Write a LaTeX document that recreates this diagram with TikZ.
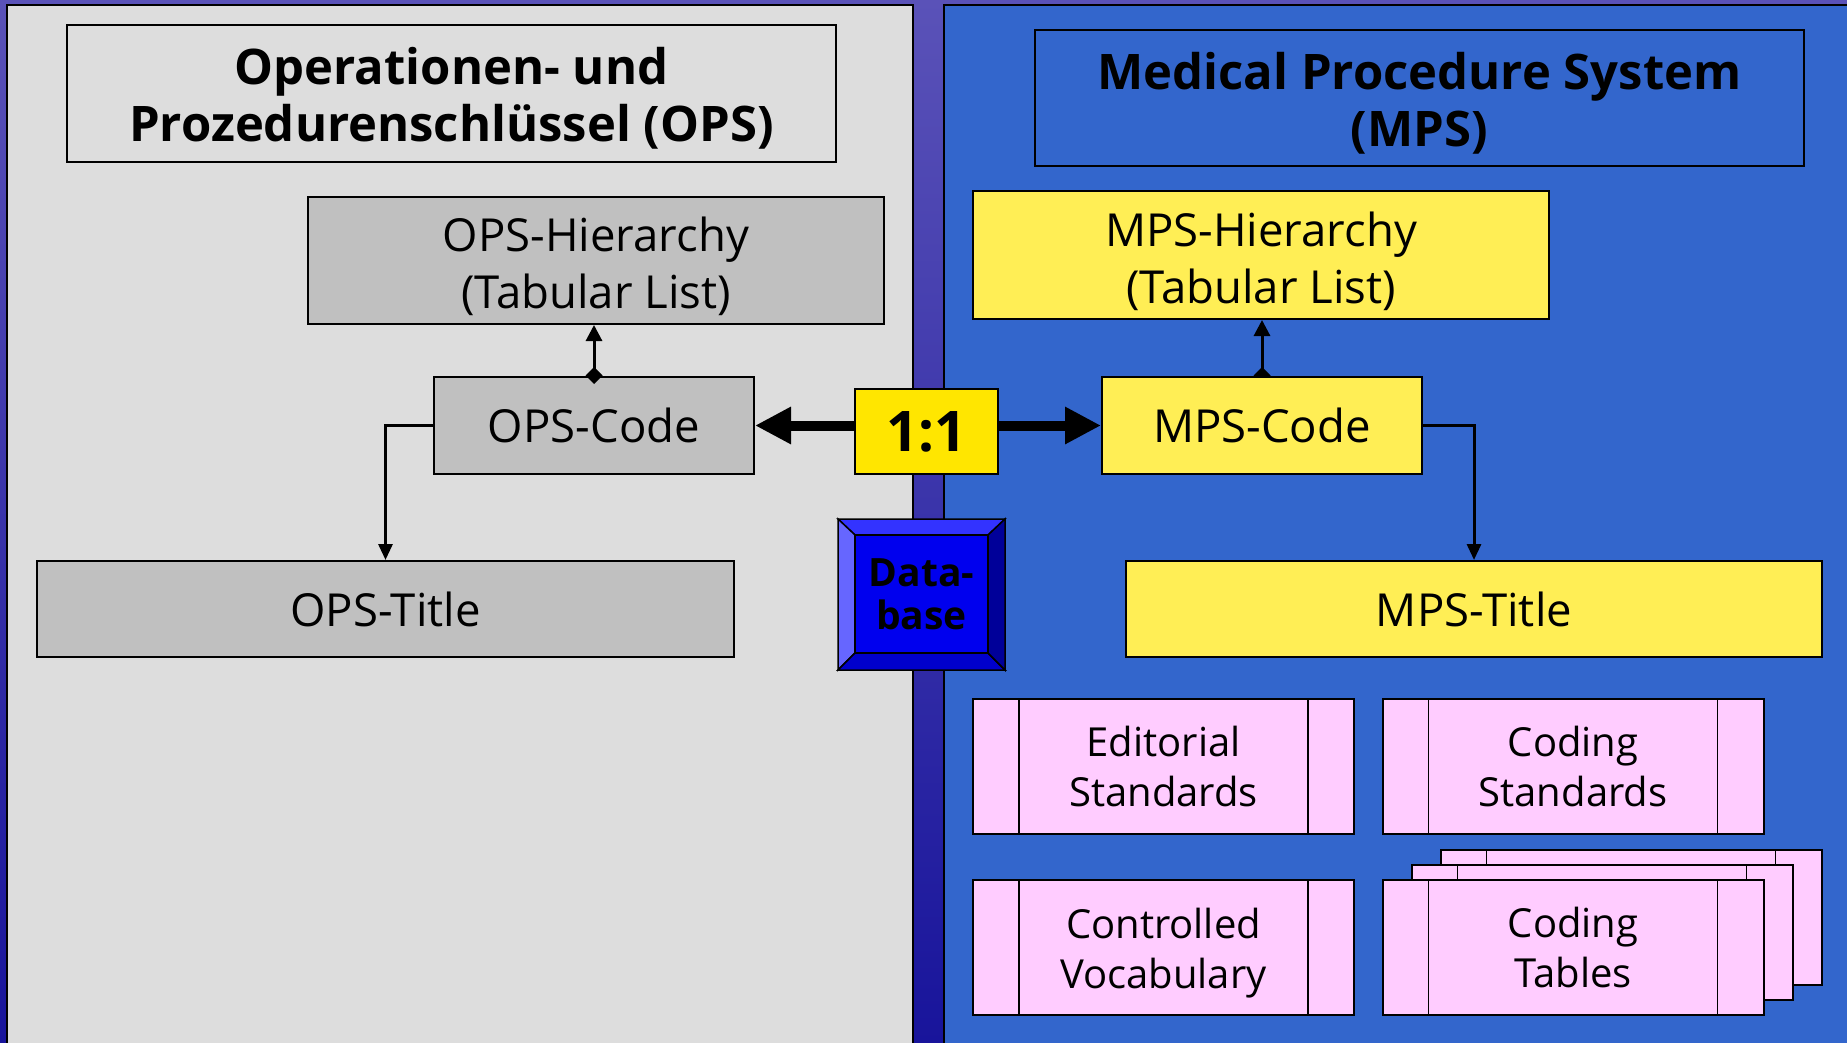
\documentclass[tikz,border=0pt]{standalone}
\usepackage{fontspec}
\setmainfont{Open Sans}
\usetikzlibrary{arrows.meta}
\definecolor{panelgray}{HTML}{DDDDDD}
\definecolor{opsgray}{HTML}{C0C0C0}
\definecolor{mpsblue}{HTML}{3366CC}
\definecolor{mpsyellow}{HTML}{FFEE55}
\definecolor{oneyellow}{HTML}{FFE600}
\definecolor{pinkfill}{HTML}{FFCCFF}
\definecolor{purtop}{RGB}{90,82,184}
\definecolor{purbot}{RGB}{24,20,155}
\definecolor{dbtop}{RGB}{51,51,255}
\definecolor{dbleft}{RGB}{102,102,255}
\definecolor{dbbottom}{RGB}{0,0,204}
\definecolor{dbright}{RGB}{0,0,153}
\definecolor{dbface}{RGB}{0,0,238}
\pgfdeclarelayer{bg}
\pgfdeclarelayer{conn}
\pgfsetlayers{bg,conn,main}
\newcommand{\topstrut}{\rule{0pt}{47pt}}
\tikzset{
  box/.style={draw=black, line width=2pt, inner sep=0pt, align=center, text=black},
  regtext/.style={font=\fontsize{45.5}{57}\selectfont},
  titletext/.style={font=\bfseries\fontsize{49}{57}\selectfont},
  opsbox/.style={box, fill=opsgray, regtext},
  mpsbox/.style={box, fill=mpsyellow, regtext},
  pinkbox/.style={box, fill=pinkfill, minimum width=381pt, minimum height=135pt,
    font=\fontsize{40}{50}\selectfont,
    path picture={
      \draw[line width=1.5pt] ([xshift=46pt]path picture bounding box.north west) -- ([xshift=46pt]path picture bounding box.south west);
      \draw[line width=1.5pt] ([xshift=-46pt]path picture bounding box.north east) -- ([xshift=-46pt]path picture bounding box.south east);
    }},
  thinarrow/.style={line width=3pt, -{Triangle[length=16pt,width=14pt]}},
  bigarrow/.style={line width=10pt, -{Triangle[length=36pt,width=35pt]}},
  bevel/.style={draw=black, line width=1.5pt, line join=miter}
}
\begin{document}
\begin{tikzpicture}[x=1pt,y=-1pt]
\useasboundingbox (0,0) rectangle (1847,1043);
\begin{pgfonlayer}{bg}
  \shade[top color=purtop, bottom color=purbot] (0,0) rectangle (1847,1043);
  \draw[fill=panelgray, line width=2pt] (7,5) rectangle (913,1060);
  \draw[fill=mpsblue, line width=2pt] (944,5) rectangle (1870,1060);
\end{pgfonlayer}

% titles
\node[box, titletext, minimum width=769pt, minimum height=137pt] (opshead) at (451.5,93.5)
  {\topstrut Operationen- und\\Prozedurenschlüssel (OPS)};
\node[box, titletext, fill=mpsblue, minimum width=769pt, minimum height=136pt] (mpshead) at (1419.5,98)
  {\topstrut Medical Procedure System\\(MPS)};

% OPS side
\node[opsbox, minimum width=576pt, minimum height=127pt] (opshier) at (596,260.5)
  {\topstrut OPS-Hierarchy\\(Tabular List)};
\node[opsbox, minimum width=320pt, minimum height=97pt] (opscode) at (594,425.5) {OPS-Code};
\node[opsbox, minimum width=697pt, minimum height=96pt] (opstitle) at (385.5,609) {OPS-Title};

% MPS side
\node[mpsbox, minimum width=576pt, minimum height=128pt] (mpshier) at (1261,255)
  {\topstrut MPS-Hierarchy\\(Tabular List)};
\node[mpsbox, minimum width=320pt, minimum height=97pt] (mpscode) at (1262,425.5) {MPS-Code};
\node[mpsbox, minimum width=696pt, minimum height=96pt] (mpstitle) at (1474,609) {MPS-Title};

% 1:1
\node[box, fill=oneyellow, minimum width=143pt, minimum height=85pt,
  font=\bfseries\fontsize{56}{60}\selectfont] (one) at (926.5,431.5) {1:1};

% database
\fill[dbface] (855,535) rectangle (988,653);
\draw[bevel, fill=dbtop] (838,519) -- (1005,519) -- (988,535) -- (855,535) -- cycle;
\draw[bevel, fill=dbleft] (838,519) -- (855,535) -- (855,653) -- (838,670) -- cycle;
\draw[bevel, fill=dbbottom] (838,670) -- (855,653) -- (988,653) -- (1005,670) -- cycle;
\draw[bevel, fill=dbright] (1005,519) -- (1005,670) -- (988,653) -- (988,535) -- cycle;
\draw[bevel] (855,535) rectangle (988,653);
\node[align=center, inner sep=0pt, font=\bfseries\fontsize{39}{43}\selectfont] (db) at (921.5,594) {Data-\\base};

% pink boxes
\node[pinkbox] (edit) at (1163.5,766.5) {Editorial\\Standards};
\node[pinkbox] (codstd) at (1573,766.5) {Coding\\Standards};
\node[pinkbox] (vocab) at (1163.5,947) {\rule{0pt}{42pt}Controlled\\Vocabulary};
\node[pinkbox] (ct3) at (1631,917) {};
\node[pinkbox] (ct2) at (1602,932) {};
\node[pinkbox] (codtab) at (1573,947) {Coding\\Tables};

% connectors
\draw[line width=3pt, {Diamond[length=17pt,width=17pt]}-{Triangle[length=16pt,width=16pt]}, shorten <=-8pt]
  (opscode.north) -- (opscode.north |- opshier.south);
\begin{pgfonlayer}{conn}
\draw[line width=3pt, {Diamond[length=17pt,width=17pt]}-{Triangle[length=16pt,width=16pt]}, shorten <=-8pt]
  (mpscode.north) -- (mpscode.north |- mpshier.south);
\end{pgfonlayer}
\draw[thinarrow] (opscode.west) -| (opstitle.north);
\draw[thinarrow] (mpscode.east) -| (mpstitle.north);
\draw[bigarrow] (one.west |- opscode.east) -- (opscode.east);
\draw[bigarrow] (one.east |- mpscode.west) -- (mpscode.west);
\end{tikzpicture}
\end{document}
